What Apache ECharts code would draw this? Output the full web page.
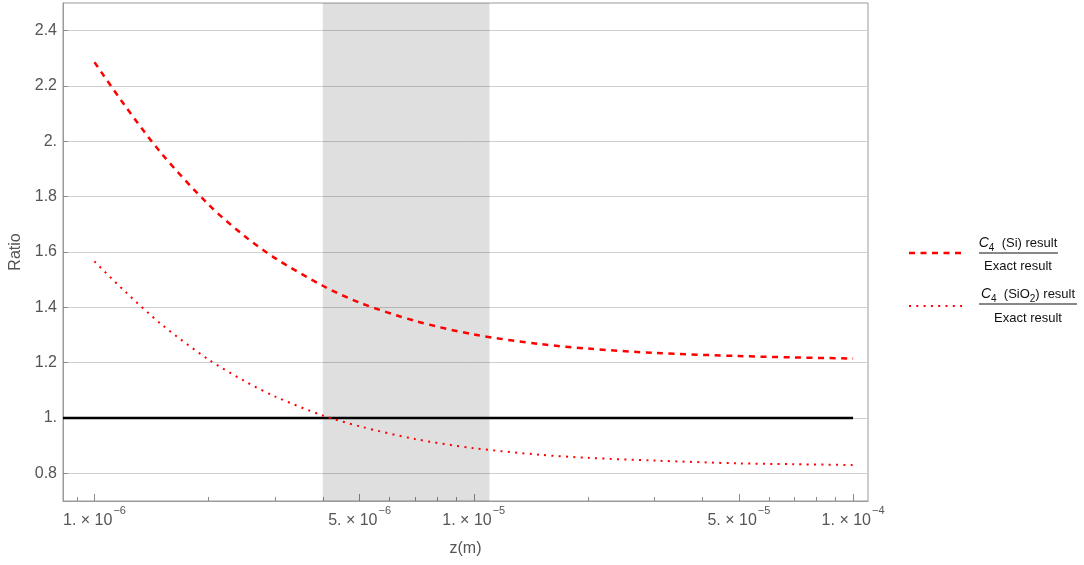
<!DOCTYPE html>
<html>
<head>
<meta charset="utf-8">
<script src="https://cdn.jsdelivr.net/npm/echarts@6/dist/echarts.min.js"></script>
<style>
html,body{margin:0;padding:0;background:#fff;}
#chart{width:1084px;height:565px;}
</style>
</head>
<body>
<div id="chart"></div>
<script>
// ---- data ----
const zValues   = [1e-6, 1.2e-6, 1.5e-6, 2e-6, 2.5e-6, 3e-6, 4e-6, 5e-6, 7e-6, 1e-5, 1.5e-5, 2e-5, 3e-5, 5e-5, 7e-5, 1e-4];
const ratioSi   = [2.286, 2.131, 1.957, 1.771, 1.655, 1.577, 1.478, 1.417, 1.351, 1.302, 1.267, 1.251, 1.235, 1.224, 1.219, 1.215];
const ratioSiO2 = [1.566, 1.459, 1.339, 1.211, 1.132, 1.077, 1.009, 0.970, 0.924, 0.891, 0.867, 0.856, 0.846, 0.836, 0.833, 0.830];
const exactLine = [1, 1];
const exactLineZ = [8.26e-7, 1e-4];
const shadedBand = [4e-6, 1.1e-5];
const xMajorTicks = [1e-6, 5e-6, 1e-5, 5e-5, 1e-4];
const xMinorTicks = [9e-7, 2e-6, 3e-6, 4e-6, 6e-6, 7e-6, 8e-6, 9e-6, 2e-5, 3e-5, 4e-5, 6e-5, 7e-5, 8e-5, 9e-5];
const yTicks = [0.8, 1.0, 1.2, 1.4, 1.6, 1.8, 2.0, 2.2, 2.4];
const xRange = [8.26e-7, 1.095e-4];
const yRange = [0.7, 2.5];

const FONT = 'Liberation Sans, Arial, sans-serif';
const TXT = '#555555';

function pairs(xs, ys) { return xs.map((x, i) => [x, ys[i]]); }

function xLabel(v) {
  const e = Math.floor(Math.log10(v) + 1e-9);
  const m = Math.round(v / Math.pow(10, e));
  return '{b|' + m + '. \u00d7 10}{s|\u2212' + (-e) + '}';
}
function yLabel(v) {
  const r = Math.round(v * 10) / 10;
  return Number.isInteger(r) ? r + '.' : r.toFixed(1);
}

const legendRich = {
  i: {fontSize: 14, fontStyle: 'italic', fill: '#111', fontFamily: FONT, verticalAlign: 'middle', lineHeight: 20},
  sub: {fontSize: 10, fill: '#111', fontFamily: FONT, verticalAlign: 'bottom', lineHeight: 10},
  n: {fontSize: 13, fill: '#111', fontFamily: FONT, verticalAlign: 'middle', lineHeight: 20}
};

const chart = echarts.init(document.getElementById('chart'), null, {renderer: 'canvas'});
const option = {
  animation: false,
  backgroundColor: '#ffffff',
  grid: {
    left: 63, top: 3, right: 216, bottom: 64,
    show: true, borderColor: '#9a9a9a', borderWidth: 1,
    containLabel: false, outerBoundsMode: 'none'
  },
  xAxis: [{
    type: 'log', logBase: 10,
    min: xRange[0], max: xRange[1],
    position: 'bottom',
    name: 'z(m)', nameLocation: 'middle', nameGap: 40,
    nameTextStyle: {fontSize: 16, color: TXT, fontFamily: FONT},
    axisLine: {show: true, lineStyle: {color: '#9a9a9a', width: 1}},
    axisTick: {show: true, inside: true, length: 7, customValues: xMajorTicks, lineStyle: {color: '#8a8a8a'}},
    axisLabel: {
      show: true, customValues: xMajorTicks, margin: 4,
      formatter: xLabel,
      rich: {
        b: {fontSize: 16, color: TXT, fontFamily: FONT, lineHeight: 24, verticalAlign: 'bottom'},
        s: {fontSize: 11, color: TXT, fontFamily: FONT, lineHeight: 14, verticalAlign: 'top', padding: [0, 0, 0, 1]}
      }
    },
    splitLine: {show: false},
    minorTick: {show: false}
  }, {
    type: 'log', logBase: 10,
    min: xRange[0], max: xRange[1],
    position: 'bottom', gridIndex: 0,
    axisLine: {show: false},
    axisTick: {show: true, inside: true, length: 4, customValues: xMinorTicks, lineStyle: {color: '#8a8a8a'}},
    axisLabel: {show: false},
    splitLine: {show: false}
  }],
  yAxis: {
    type: 'value', min: yRange[0], max: yRange[1],
    name: 'Ratio', nameLocation: 'middle', nameGap: 38,
    nameTextStyle: {fontSize: 16, color: TXT, fontFamily: FONT},
    axisLine: {show: true, lineStyle: {color: '#9a9a9a', width: 1}},
    axisTick: {show: true, inside: true, length: 5, customValues: yTicks, lineStyle: {color: '#8a8a8a'}},
    axisLabel: {show: true, customValues: yTicks, formatter: yLabel, margin: 6,
      fontSize: 16, color: TXT, fontFamily: FONT},
    splitLine: {show: true, lineStyle: {color: '#cfcfcf', width: 1}}
  },
  series: [{
    name: 'band', type: 'line', data: [], silent: true,
    markArea: {
      silent: true,
      itemStyle: {color: 'rgba(0,0,0,0.125)'},
      data: [[{xAxis: shadedBand[0]}, {xAxis: shadedBand[1]}]]
    }
  }, {
    name: 'exact', type: 'line', data: pairs(exactLineZ, exactLine),
    showSymbol: false, symbol: 'none', silent: true,
    lineStyle: {color: '#000000', width: 2.5}
  }, {
    name: 'C4 (Si) result / Exact result', type: 'line',
    data: pairs(zValues, ratioSi), smooth: 0.3,
    showSymbol: false, symbol: 'none',
    lineStyle: {color: '#ff0000', width: 2.5, type: [6, 5.5]}
  }, {
    name: 'C4 (SiO2) result / Exact result', type: 'line',
    data: pairs(zValues, ratioSiO2), smooth: 0.3,
    showSymbol: false, symbol: 'none',
    lineStyle: {color: '#ff0000', width: 2, type: [2, 5.3]}
  }],
  graphic: [
    {type: 'line', shape: {x1: 909, y1: 253, x2: 962, y2: 253},
     style: {stroke: '#ff0000', lineWidth: 2.5, lineDash: [6, 5.5]}},
    {type: 'text', x: 1018, y: 243,
     style: {text: '{i|C}{sub|4}{n|  (Si) result}', align: 'center', verticalAlign: 'middle', rich: legendRich}},
    {type: 'line', shape: {x1: 979, y1: 253, x2: 1058, y2: 253}, style: {stroke: '#111', lineWidth: 1}},
    {type: 'text', x: 1018, y: 266,
     style: {text: 'Exact result', align: 'center', verticalAlign: 'middle', font: '13px ' + FONT, fill: '#111'}},

    {type: 'line', shape: {x1: 909, y1: 306, x2: 962, y2: 306},
     style: {stroke: '#ff0000', lineWidth: 2, lineDash: [2, 5.3]}},
    {type: 'text', x: 1028, y: 294,
     style: {text: '{i|C}{sub|4}{n|  (SiO}{sub|2}{n|) result}', align: 'center', verticalAlign: 'middle', rich: legendRich}},
    {type: 'line', shape: {x1: 979, y1: 304, x2: 1077, y2: 304}, style: {stroke: '#111', lineWidth: 1}},
    {type: 'text', x: 1028, y: 318,
     style: {text: 'Exact result', align: 'center', verticalAlign: 'middle', font: '13px ' + FONT, fill: '#111'}}
  ]
};
chart.setOption(option);
</script>
</body>
</html>
